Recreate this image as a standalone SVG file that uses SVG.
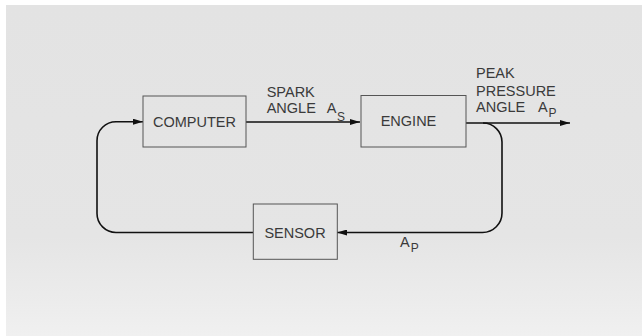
<svg xmlns="http://www.w3.org/2000/svg" width="642" height="336" viewBox="0 0 642 336">
  <defs>
    <linearGradient id="bg" x1="0" y1="0" x2="0" y2="1">
      <stop offset="0" stop-color="#e3e3e3"/>
      <stop offset="0.7" stop-color="#e5e5e5"/>
      <stop offset="0.9" stop-color="#ececec"/>
      <stop offset="1" stop-color="#f0f0f0"/>
    </linearGradient>
    <marker id="arr" viewBox="0 0 10 6" refX="10" refY="3" markerWidth="10" markerHeight="6" markerUnits="userSpaceOnUse" orient="auto">
      <path d="M0,0 L10,3 L0,6 Z" fill="#111"/>
    </marker>
    <style>
      .box { fill: none; stroke: #555; stroke-width: 1; }
      .lbl { font-family: "Liberation Sans", Arial, sans-serif; font-size: 14.5px; fill: #3a3a3a; }
      .sub { font-family: "Liberation Sans", Arial, sans-serif; font-size: 12px; fill: #3a3a3a; }
      .wire { fill: none; stroke: #111; stroke-width: 1.6; }
    </style>
  </defs>
  <rect x="0" y="0" width="642" height="336" fill="#ffffff"/>
  <rect x="6" y="5" width="636" height="331" fill="url(#bg)"/>

  <g id="connectors">
    <path class="wire" d="M246,122 H360" marker-end="url(#arr)"/>
    <path class="wire" d="M466,123 H570" marker-end="url(#arr)"/>
    <path class="wire" d="M483,123 A19,19 0 0 1 502,142 V213 A19.5,19.5 0 0 1 482.5,232.5 H337" marker-end="url(#arr)"/>
    <path class="wire" d="M253,232.5 H116 A19,19 0 0 1 97,213.5 V140.7 A19,19 0 0 1 116,121.7 H143" marker-end="url(#arr)"/>
    <text class="lbl" x="266.7" y="96.7">SPARK</text>
    <text class="lbl" x="266.7" y="112.7">ANGLE</text>
    <text class="lbl" x="326.7" y="112.7">A</text>
    <text class="sub" x="337" y="120.7">S</text>
    <text class="lbl" x="476" y="78.3">PEAK</text>
    <text class="lbl" x="476" y="96">PRESSURE</text>
    <text class="lbl" x="476" y="111.7">ANGLE</text>
    <text class="lbl" x="538" y="111.7">A</text>
    <text class="sub" x="548.5" y="116.5">P</text>
    <text class="lbl" x="400" y="246.7">A</text>
    <text class="sub" x="410.7" y="251.7">P</text>
  </g>

  <g id="computer">
    <rect class="box" x="143" y="96" width="103" height="51"/>
    <text class="lbl" x="194.5" y="126.5" text-anchor="middle">COMPUTER</text>
  </g>
  <g id="engine">
    <rect class="box" x="361" y="95.5" width="105" height="51.5"/>
    <text class="lbl" x="408.5" y="126" text-anchor="middle">ENGINE</text>
  </g>
  <g id="sensor">
    <rect class="box" x="253.3" y="204" width="84" height="55.3"/>
    <text class="lbl" x="295" y="237.7" text-anchor="middle">SENSOR</text>
  </g>
</svg>
